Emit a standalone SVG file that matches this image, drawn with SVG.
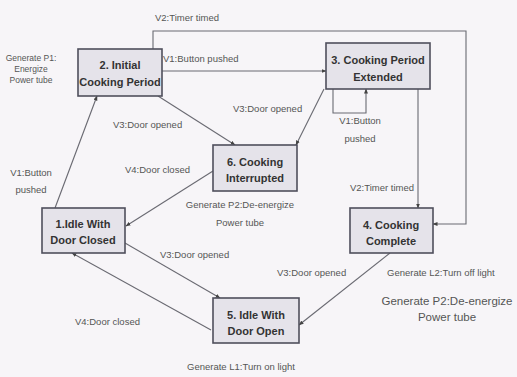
<svg xmlns="http://www.w3.org/2000/svg" width="517" height="377" viewBox="0 0 517 377">
<defs>
<marker id="arr" viewBox="0 0 10 10" refX="9" refY="5" markerWidth="5" markerHeight="5" orient="auto" markerUnits="userSpaceOnUse">
<path d="M0,1 L10,5 L0,9 Z" fill="#444"/>
</marker>
<style>
.node rect{fill:#e5e3ea;stroke:#4f4f5c;stroke-width:1.6}
.node text{font-family:"Liberation Sans",Arial,sans-serif;font-weight:bold;font-size:11px;fill:#333;text-anchor:middle}
.edges path{fill:none;stroke:#6a6a72;stroke-width:1.1;marker-end:url(#arr)}
.lbl{font-family:"Liberation Sans",Arial,sans-serif;font-size:9.5px;fill:#555}
.mid{text-anchor:middle}
.big{font-size:11.5px}
</style>
</defs>
<rect width="517" height="377" fill="#f7f5f8"/>
<g class="edges">
<path d="M153,49 V31 H466 V224 H433"/>
<path d="M162,71 H326"/>
<path d="M333,89 V113 H366 V89"/>
<path d="M418,89 V208"/>
<path d="M324,89 L296,145"/>
<path d="M158,96 L235,145"/>
<path d="M213,171 L126,226"/>
<path d="M55,208 L97,96"/>
<path d="M125,243 L220,298"/>
<path d="M211,330 L72,253"/>
<path d="M390,253 L299,325"/>
</g>
<g id="node2" class="node"><rect x="78" y="49" width="84" height="47"/><text x="120" y="69">2. Initial</text><text x="120" y="86">Cooking Period</text></g>
<g id="node3" class="node"><rect x="326" y="43" width="104" height="46"/><text x="378" y="64">3. Cooking Period</text><text x="378" y="81">Extended</text></g>
<g id="node6" class="node"><rect x="213" y="145" width="84" height="46"/><text x="255" y="166">6. Cooking</text><text x="255" y="182">Interrupted</text></g>
<g id="node1" class="node"><rect x="42" y="208" width="83" height="45"/><text x="83" y="228">1.Idle With</text><text x="83" y="244">Door Closed</text></g>
<g id="node4" class="node"><rect x="350" y="208" width="83" height="45"/><text x="391" y="229">4. Cooking</text><text x="391" y="245">Complete</text></g>
<g id="node5" class="node"><rect x="213" y="298" width="86" height="45"/><text x="256" y="319">5. Idle With</text><text x="256" y="335">Door Open</text></g>
<g id="labels">
<text class="lbl" x="155" y="21">V2:Timer timed</text>
<text class="lbl" x="163" y="62">V1:Button pushed</text>
<text class="lbl" x="233" y="112">V3:Door opened</text>
<text class="lbl mid" x="360" y="124">V1:Button</text>
<text class="lbl mid" x="360" y="142">pushed</text>
<text class="lbl" x="113" y="128">V3:Door opened</text>
<text class="lbl" x="125" y="173">V4:Door closed</text>
<text class="lbl mid" x="31" y="176">V1:Button</text>
<text class="lbl mid" x="31" y="193">pushed</text>
<text class="lbl" x="350" y="191">V2:Timer timed</text>
<text class="lbl mid" x="240" y="208">Generate P2:De-energize</text>
<text class="lbl mid" x="240" y="226">Power tube</text>
<text class="lbl" x="160" y="258">V3:Door opened</text>
<text class="lbl" x="277" y="276">V3:Door opened</text>
<text class="lbl" x="387" y="276">Generate L2:Turn off light</text>
<text class="lbl big mid" x="447" y="305">Generate P2:De-energize</text>
<text class="lbl big mid" x="447" y="321">Power tube</text>
<text class="lbl" x="75" y="325">V4:Door closed</text>
<text class="lbl" x="187" y="370">Generate L1:Turn on light</text>
<text class="lbl mid" x="31" y="61" style="font-size:8.5px">Generate P1:</text>
<text class="lbl mid" x="31" y="72" style="font-size:8.5px">Energize</text>
<text class="lbl mid" x="31" y="83" style="font-size:8.5px">Power tube</text>
</g>
</svg>
